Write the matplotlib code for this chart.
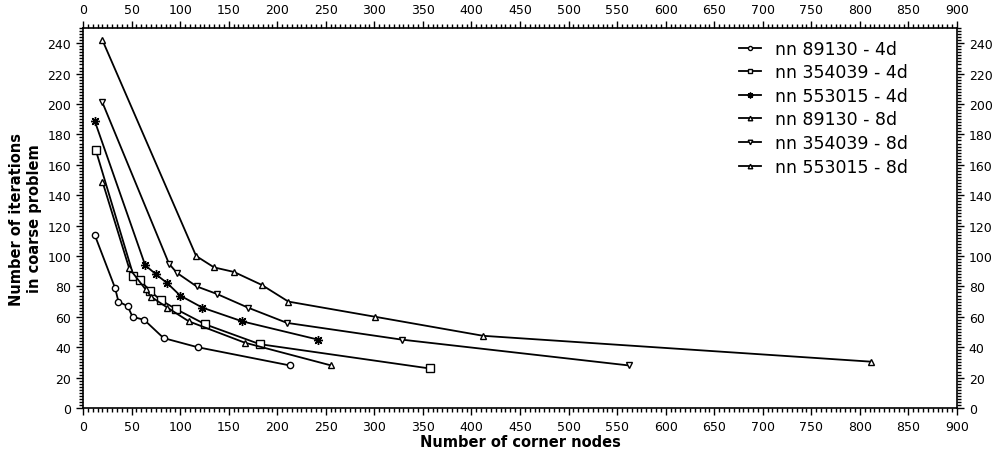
import matplotlib
matplotlib.use("Agg")
import matplotlib.pyplot as plt
from matplotlib.ticker import MultipleLocator

labels = ["nn 89130 - 4d", "nn 354039 - 4d", "nn 553015 - 4d",
          "nn 89130 - 8d", "nn 354039 - 8d", "nn 553015 - 8d"]

x_89130_4d = [12, 33, 36.5, 46, 51, 63, 83, 118, 213]
y_89130_4d = [114, 79, 70, 67, 60, 58, 46, 40, 28]

x_354039_4d = [13, 52, 59, 69, 80, 96, 126, 182, 357]
y_354039_4d = [170, 87, 84, 77, 71, 65, 55, 42, 26]

x_553015_4d = [12, 64, 75, 87, 100, 123, 164, 242]
y_553015_4d = [189, 94, 88, 82, 74, 66, 57, 45]

x_89130_8d = [20, 47.5, 64.5, 70.5, 87, 109, 166.5, 255.5]
y_89130_8d = [149, 92, 78, 73, 66, 57, 43, 28]

x_354039_8d = [20, 88.5, 96.5, 117, 138, 170, 210, 328, 562]
y_354039_8d = [201, 95, 89, 80, 75, 66, 56, 45, 28]

x_553015_8d = [20, 116.5, 135, 155.5, 184, 211.5, 301, 412, 811]
y_553015_8d = [242, 100, 92.5, 89.5, 81, 70, 60, 47.5, 30.5]

xs = [x_89130_4d, x_354039_4d, x_553015_4d, x_89130_8d, x_354039_8d, x_553015_8d]
ys = [y_89130_4d, y_354039_4d, y_553015_4d, y_89130_8d, y_354039_8d, y_553015_8d]
markers = ["o", "s", (8, 2, 0), "^", "v", "^"]
msizes = [4.5, 5.5, 6.5, 5, 5, 5]

fig = plt.figure(figsize=(9.95, 4.52), dpi=100)
ax = fig.add_axes([83/995, 43/452, (957-83)/995, (409-29)/452])

for x, y, m, ms, lab in zip(xs, ys, markers, msizes, labels):
    ax.plot(x, y, color="black", lw=1.3, marker=m, markersize=ms,
            markerfacecolor="white", markeredgecolor="black", markeredgewidth=1.0,
            label=lab)

ax.set_xlim(0, 900)
ax.set_ylim(0, 250)
ax.xaxis.set_major_locator(MultipleLocator(50))
ax.xaxis.set_minor_locator(MultipleLocator(5))
ax.yaxis.set_major_locator(MultipleLocator(20))
ax.yaxis.set_minor_locator(MultipleLocator(2))
ax.tick_params(which="both", direction="out", top=True, right=True,
               labeltop=True, labelright=True, labelsize=9, width=1)
ax.tick_params(which="major", length=5)
ax.tick_params(which="minor", length=3)
for s in ax.spines.values():
    s.set_linewidth(1.2)

ax.set_xlabel("Number of corner nodes", fontsize=10.5, fontweight="bold", labelpad=1)
ax.set_ylabel("Number of iterations\nin coarse problem", fontsize=10.5,
              fontweight="bold", labelpad=4)

leg = ax.legend(loc="upper right", bbox_to_anchor=(0.962, 1.01), frameon=False,
                fontsize=12.5, handlelength=1.3, markerscale=0.65,
                handletextpad=0.8, labelspacing=0.32)

fig.savefig("out.png", dpi=100)
